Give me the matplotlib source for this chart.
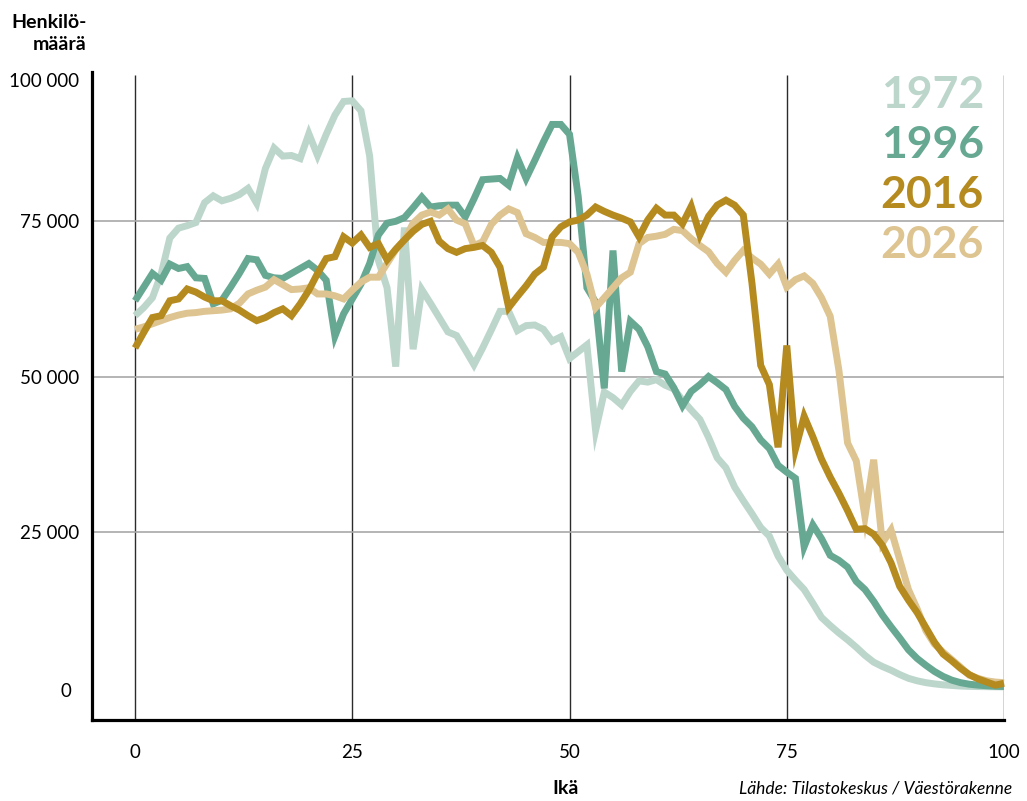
import matplotlib
matplotlib.use("Agg")
import matplotlib.pyplot as plt
from matplotlib.transforms import ScaledTranslation

plt.rcParams['font.family'] = ['Lato', 'DejaVu Sans']

ages = list(range(0, 101))

# population by age, thousands of persons
pop_1972 = [59.8, 61.1, 62.7, 66.5, 72.3, 73.9, 74.3, 74.8, 78.0, 79.1,
            78.3, 78.7, 79.3, 80.3, 77.9, 83.5, 86.8, 85.5, 85.6, 85.1,
            89.1, 85.6, 89.0, 92.1, 94.3, 94.4, 92.8, 85.5, 68.7, 64.3,
            51.6, 74.0, 54.4, 64.0, 61.8, 59.5, 57.2, 56.6, 54.3, 51.9,
            54.6, 57.5, 60.5, 60.5, 57.4, 58.2, 58.3, 57.6, 55.7, 56.4,
            52.9, 54.0, 55.1, 41.3, 47.5, 46.6, 45.4, 47.6, 49.3, 49.1,
            49.5, 48.6, 48.0, 46.2, 44.6, 43.1, 40.2, 36.9, 35.3, 32.2,
            30.0, 27.9, 25.7, 24.3, 21.1, 18.8, 17.2, 15.7, 13.5, 11.2,
            9.9, 8.7, 7.6, 6.4, 5.1, 4.0, 3.3, 2.7, 2.0, 1.4,
            1.0, 0.7, 0.5, 0.35, 0.25, 0.15, 0.1, 0.07, 0.05, 0.03, 0.02]

pop_1996 = [62.2, 64.4, 66.6, 65.5, 68.1, 67.4, 67.7, 65.9, 65.8, 61.7,
            62.3, 64.4, 66.6, 69.0, 68.8, 66.3, 65.9, 65.8, 66.6, 67.4,
            68.2, 67.1, 65.5, 56.5, 60.1, 62.5, 64.9, 68.2, 72.8, 74.7,
            75.0, 75.6, 77.2, 78.9, 77.3, 77.5, 77.6, 77.6, 75.7, 78.6,
            81.7, 81.8, 81.9, 80.8, 85.2, 81.9, 84.8, 87.8, 90.6, 90.6,
            89.0, 79.0, 64.3, 62.0, 48.1, 70.3, 50.8, 58.9, 57.6, 54.8,
            50.8, 50.4, 48.2, 45.3, 47.6, 48.7, 50.0, 49.0, 47.9, 45.2,
            43.3, 41.9, 39.8, 38.4, 35.7, 34.6, 33.6, 22.6, 26.1, 23.9,
            21.2, 20.4, 19.3, 17.0, 15.7, 13.8, 11.6, 9.7, 7.9, 6.0,
            4.6, 3.5, 2.5, 1.7, 1.1, 0.7, 0.45, 0.3, 0.2, 0.12, 0.08]

pop_2016 = [54.6, 57.1, 59.5, 59.8, 62.2, 62.5, 64.1, 63.6, 62.8, 62.2,
            62.2, 61.4, 60.7, 59.8, 59.0, 59.5, 60.3, 60.9, 59.8, 61.7,
            63.9, 66.6, 69.0, 69.3, 72.5, 71.5, 72.8, 70.8, 71.4, 68.8,
            70.5, 72.0, 73.4, 74.5, 75.0, 71.8, 70.6, 70.0, 70.6, 70.8,
            71.1, 70.0, 67.6, 61.1, 62.9, 64.6, 66.5, 67.6, 72.5, 74.1,
            74.9, 75.2, 76.0, 77.3, 76.6, 76.0, 75.5, 74.9, 72.5, 75.2,
            77.1, 76.0, 76.0, 74.6, 77.4, 72.8, 75.8, 77.6, 78.4, 77.6,
            76.0, 65.0, 51.8, 48.7, 38.6, 55.0, 38.3, 43.6, 40.3, 36.7,
            33.8, 31.2, 28.4, 25.4, 25.5, 24.6, 22.8, 20.0, 16.2, 14.0,
            12.0, 9.6, 7.2, 5.3, 4.2, 3.0, 2.0, 1.3, 0.8, 0.3, 0.6]

pop_2026 = [57.6, 58.0, 58.5, 59.0, 59.5, 59.9, 60.2, 60.3, 60.5, 60.6,
            60.7, 60.9, 61.8, 63.3, 63.9, 64.4, 65.6, 64.8, 64.0, 64.1,
            64.3, 63.3, 63.3, 63.0, 62.5, 63.9, 65.2, 66.0, 66.0, 68.2,
            70.4, 72.0, 74.7, 76.0, 76.5, 76.0, 77.0, 75.2, 74.6, 71.1,
            71.7, 74.5, 76.0, 77.0, 76.4, 73.0, 72.4, 71.6, 71.6, 71.6,
            71.4, 70.0, 66.5, 61.1, 62.7, 64.3, 65.9, 66.8, 71.4, 72.4,
            72.6, 72.9, 73.7, 73.5, 72.2, 71.1, 70.1, 68.2, 66.8, 68.7,
            70.3, 69.1, 68.1, 66.5, 68.1, 64.4, 65.6, 66.2, 65.0, 62.7,
            59.7, 51.0, 39.3, 36.4, 27.4, 36.6, 23.2, 25.3, 20.5, 15.7,
            12.6, 9.1, 6.9, 5.6, 4.4, 3.2, 1.9, 1.4, 1.0, 0.8, 0.7]

years = ["1972", "1996", "2016", "2026"]
series = [pop_1972, pop_1996, pop_2016, pop_2026]
colors = ["#bdd6cc", "#67a892", "#b58a1f", "#ddc490"]
zorders = [3, 4, 6, 5]

x_ticks = [0, 25, 50, 75, 100]
y_ticks = [0, 25000, 50000, 75000, 100000]
y_ticklabels = ["0", "25 000", "50 000", "75 000", "100 000"]

W, H = 1027, 801
fig = plt.figure(figsize=(W / 100, H / 100), dpi=100)

y0px = 687.0
y75px = 221.3
k = (y0px - y75px) / 75000.0
ymin = -(720 - y0px) / k
ymax = 100000
top_px = y0px - ymax * k
ax = fig.add_axes([91.6 / W, 1 - 720 / H, (1004 - 91.6) / W, (720 - top_px) / H])
ax.set_xlim(-5, 100)
ax.set_ylim(ymin, ymax)

# grid
ytop_grid = (y0px - 75) / k
ax.vlines(x_ticks, ymin, ytop_grid, colors="#2b2b2b", linewidth=1.0, zorder=1)
for v in [25000, 50000, 75000]:
    ax.plot([-5, 100], [v, v], color="#a8a8a8", linewidth=1.2, zorder=1,
            solid_capstyle="butt")

for vals, c, z in zip(series, colors, zorders):
    ax.plot(ages, [v * 1000 for v in vals], color=c, linewidth=5.0,
            solid_joinstyle="miter", solid_capstyle="butt", zorder=z,
            clip_on=False)

for s in ["top", "right"]:
    ax.spines[s].set_visible(False)
ax.spines["left"].set_linewidth(2.3)
ax.spines["bottom"].set_linewidth(2.3)
ax.spines["left"].set_bounds(ymin, (y0px - 72) / k)

ax.set_xticks(x_ticks)
ax.set_xticklabels([str(t) for t in x_ticks])
ax.set_yticks(y_ticks)
ax.set_yticklabels(y_ticklabels)
ax.tick_params(axis="both", length=0, labelsize=13.5, colors="black")
ax.tick_params(axis="y", pad=9)
ax.tick_params(axis="x", pad=17)

ylabs = ax.get_yticklabels()
ylabs[0].set_transform(ylabs[0].get_transform() +
                       ScaledTranslation(-8 / 100, -3 / 100, fig.dpi_scale_trans))
ylabs[-1].set_transform(ylabs[-1].get_transform() +
                        ScaledTranslation(0, -14 / 100, fig.dpi_scale_trans))

# titles
fig.text(87 / W, 1 - 22 / H, "Henkilö-", ha="right", va="center",
         fontsize=14, fontweight="bold")
fig.text(87 / W, 1 - 45 / H, "määrä", ha="right", va="center",
         fontsize=14, fontweight="bold")
fig.text(566 / W, 1 - 788 / H, "Ikä", ha="center", va="center",
         fontsize=14, fontweight="bold")
fig.text(1012 / W, 1 - 788 / H, "Lähde: Tilastokeskus / Väestörakenne",
         ha="right", va="center", fontsize=12.5, fontstyle="italic")

# legend texts
for i, (yr, c) in enumerate(zip(years, colors)):
    fig.text(984 / W, 1 - (95 + 50 * i) / H, yr, ha="right", va="center",
             fontsize=32, fontweight="bold", color=c)

fig.savefig("out.png", dpi=100)
